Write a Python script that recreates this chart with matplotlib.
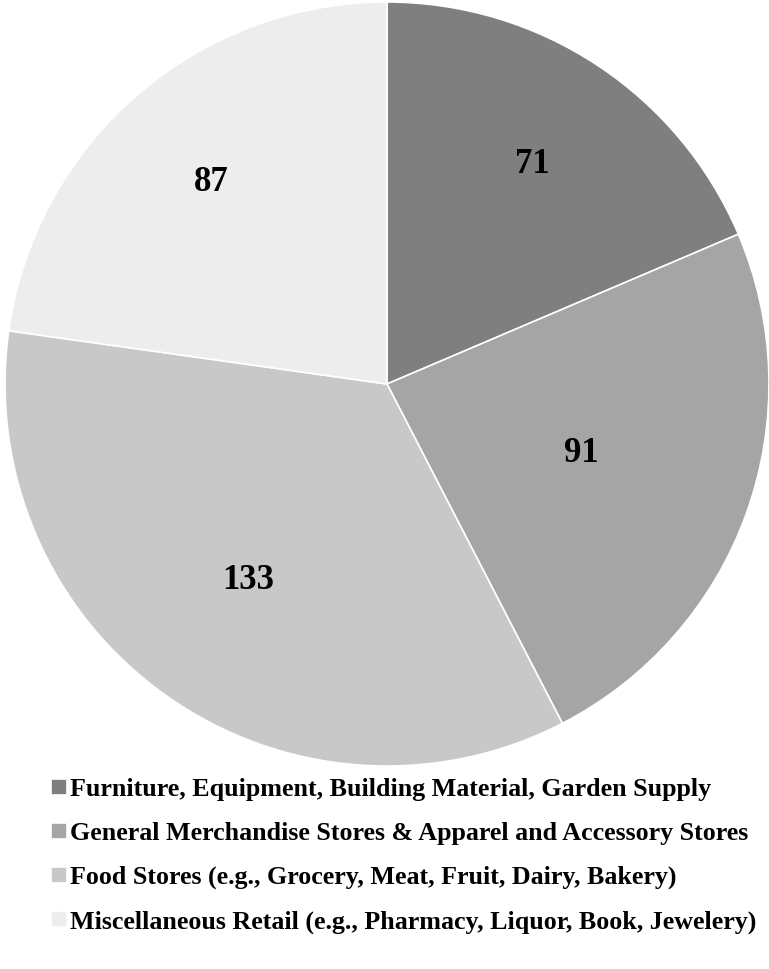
import matplotlib
matplotlib.use("Agg")
import matplotlib.pyplot as plt
import numpy as np

categories = [
    "Furniture, Equipment, Building Material, Garden Supply",
    "General Merchandise Stores & Apparel and Accessory Stores",
    "Food Stores (e.g., Grocery, Meat, Fruit, Dairy, Bakery)",
    "Miscellaneous Retail (e.g., Pharmacy, Liquor, Book, Jewelery)",
]
values = [71, 91, 133, 87]
colors = ["#7f7f7f", "#a5a5a5", "#c8c8c8", "#ededed"]
label_radii = [0.69, 0.54, 0.63, 0.70]

plt.rcParams['font.family'] = ['Liberation Serif', 'DejaVu Serif']

fig = plt.figure(figsize=(7.69, 9.69), dpi=100)
ax = fig.add_axes([5/769, 203/969, 764/769, 764/969])
wedges, _ = ax.pie(values, colors=colors, startangle=90, counterclock=False,
                   wedgeprops=dict(edgecolor="white", linewidth=1.2), radius=1.0)
ax.set_xlim(-1, 1)
ax.set_ylim(-1, 1)
ax.set_aspect('equal')
ax.axis('off')

for w, v, r in zip(wedges, values, label_radii):
    ang = np.deg2rad((w.theta1 + w.theta2) / 2)
    ax.text(r*np.cos(ang), r*np.sin(ang), str(v), ha='center', va='center',
            fontsize=25, fontweight='bold', color='black')

fig.legend(wedges, categories, loc='upper left', bbox_to_anchor=(41/769, 1 - 768/969),
           frameon=False, prop=dict(size=18.7, weight='bold'), handlelength=0.6,
           handleheight=0.6, handletextpad=0.12, labelspacing=0.8, borderaxespad=0)

fig.savefig("out.png", dpi=100)
